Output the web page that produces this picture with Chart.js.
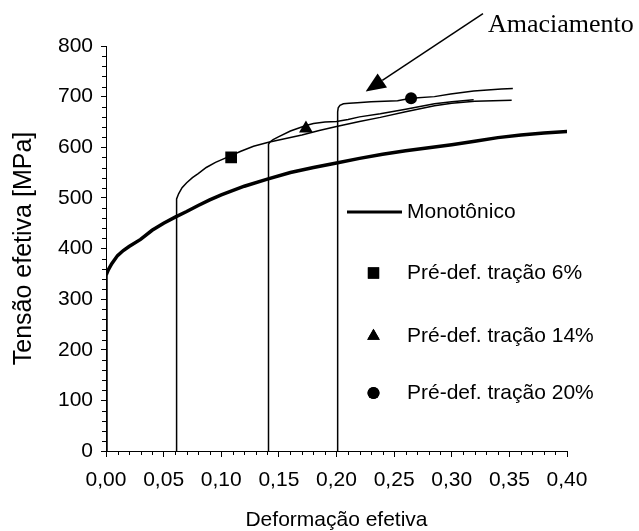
<!DOCTYPE html>
<html><head><meta charset="utf-8">
<script src="https://cdn.jsdelivr.net/npm/chart.js@4.4.1/dist/chart.umd.min.js"></script>
<style>html,body{margin:0;padding:0;background:#fff}#wrap{width:639px;height:531px}</style>
</head><body><div id="wrap"><canvas id="c" width="639" height="531"></canvas></div>
<script>
// ---- data (strain, stress in MPa) ----
const monoStrain = [0, 0, 0.002, 0.005, 0.01, 0.015, 0.02, 0.03, 0.04, 0.05, 0.06, 0.07, 0.08, 0.09, 0.10, 0.12, 0.14, 0.16, 0.18, 0.20, 0.22, 0.24, 0.26, 0.28, 0.30, 0.32, 0.34, 0.36, 0.38, 0.405];
const monoStress = [0, 347, 358, 370, 386, 396, 404, 418, 436, 450, 462, 473, 485, 496, 506, 523, 537, 550, 560, 569, 578, 586, 593, 599, 605, 612, 619, 624, 628, 632];

const pre6Strain = [0.061, 0.061, 0.0615, 0.063, 0.066, 0.070, 0.075, 0.080, 0.087, 0.095, 0.107, 0.117, 0.128, 0.141, 0.155, 0.170, 0.185, 0.200, 0.220, 0.238, 0.260, 0.285, 0.300, 0.320, 0.352];
const pre6Stress = [0, 488, 498, 508, 520, 530, 540, 548, 560, 570, 582, 592, 602, 610, 617, 624, 633, 641, 651, 659, 670, 682, 687, 691, 693];

const pre14Strain = [0.141, 0.141, 0.1425, 0.145, 0.150, 0.160, 0.1735, 0.180, 0.190, 0.200, 0.210, 0.220, 0.238, 0.260, 0.285, 0.300, 0.319];
const pre14Stress = [0, 606, 611, 615, 621, 632, 643, 647, 650, 651, 655, 660, 666, 675, 686, 690, 694];

const pre20Strain = [0.201, 0.201, 0.2015, 0.203, 0.206, 0.211, 0.218, 0.230, 0.253, 0.2645, 0.285, 0.299, 0.319, 0.343, 0.353];
const pre20Stress = [0, 670, 678, 683, 686, 687, 688, 690, 692, 697, 700, 705, 711, 715, 716];

const markerLabels = ['Pré-def. tração 6%', 'Pré-def. tração 14%', 'Pré-def. tração 20%'];
const markerStrain = [0.1086, 0.1735, 0.2647];
const markerStress = [580, 637, 697];

const xMin = 0, xMax = 0.40, xStep = 0.05;
const yMin = 0, yMax = 800, yStep = 100;

function pts(xs, ys) { return xs.map((x, i) => ({ x: x, y: ys[i] })); }

const FONT = '"Liberation Sans", Arial, sans-serif';

const minorTicks = {
  id: 'minorTicks',
  afterDraw(chart) {
    const { ctx, scales: { x, y } } = chart;
    ctx.save();
    ctx.strokeStyle = '#000';
    ctx.lineWidth = 1;
    for (let i = 0; i <= 40; i++) {
      if (i % 5 === 0) continue;
      const px = Math.round(x.getPixelForValue(i / 100)) + 0.5;
      ctx.beginPath(); ctx.moveTo(px, y.bottom); ctx.lineTo(px, y.bottom + 4); ctx.stroke();
    }
    for (let v = 0; v <= 800; v += 20) {
      if (v % 100 === 0) continue;
      const py = Math.round(y.getPixelForValue(v)) + 0.5;
      ctx.beginPath(); ctx.moveTo(x.left, py); ctx.lineTo(x.left - 4, py); ctx.stroke();
    }
    ctx.restore();
  }
};

const customLegend = {
  id: 'customLegend',
  afterDraw(chart) {
    const ctx = chart.ctx;
    ctx.save();
    ctx.fillStyle = '#000';
    ctx.strokeStyle = '#000';
    ctx.font = '21px ' + FONT;
    ctx.textBaseline = 'middle';
    ctx.textAlign = 'left';
    const rows = [212, 273, 336, 393];
    let r = 0;
    chart.data.datasets.forEach((ds) => {
      if (!ds.label) return;
      const yy = rows[r++];
      if (ds.showLine) {
        ctx.lineWidth = 3;
        ctx.beginPath(); ctx.moveTo(347, yy); ctx.lineTo(402, yy); ctx.stroke();
      } else {
        Chart.helpers.drawPoint(ctx, { pointStyle: ds.pointStyle, radius: ds.legendRadius, rotation: 0, borderWidth: 0 }, 373.5, yy);
        ctx.fill();
      }
      ctx.fillText(ds.label, 407, yy);
    });
    ctx.restore();
  }
};

const annotation = {
  id: 'annotation',
  afterDraw(chart) {
    const { ctx, scales: { x, y } } = chart;
    const tx = x.getPixelForValue(0.2253), ty = y.getPixelForValue(710);
    const sx = x.getPixelForValue(0.3271), sy = y.getPixelForValue(864);
    const dx = tx - sx, dy = ty - sy, L = Math.hypot(dx, dy);
    const ux = dx / L, uy = dy / L;
    const hl = 20, hw = 8.5;
    const bx = tx - ux * hl, by = ty - uy * hl;
    ctx.save();
    ctx.strokeStyle = '#000'; ctx.fillStyle = '#000'; ctx.lineWidth = 1.5;
    ctx.beginPath(); ctx.moveTo(sx, sy); ctx.lineTo(bx, by); ctx.stroke();
    ctx.beginPath();
    ctx.moveTo(tx, ty);
    ctx.lineTo(bx - uy * hw, by + ux * hw);
    ctx.lineTo(bx + uy * hw, by - ux * hw);
    ctx.closePath(); ctx.fill();
    ctx.font = '26px "Liberation Serif", "Times New Roman", serif';
    ctx.textBaseline = 'middle'; ctx.textAlign = 'left';
    ctx.fillText('Amaciamento', sx + 5, sy + 12);
    ctx.restore();
  }
};

const lineDs = (data, w) => ({ data: data, showLine: true, borderColor: '#000', backgroundColor: '#000', borderWidth: w, pointRadius: 0, pointHoverRadius: 0, tension: 0 });

const datasets = [
  lineDs(pts(pre6Strain, pre6Stress), 1.5),
  lineDs(pts(pre14Strain, pre14Stress), 1.5),
  lineDs(pts(pre20Strain, pre20Stress), 1.5),
  Object.assign(lineDs(pts(monoStrain, monoStress), 3.5), { label: 'Monotônico' }),
];
const styles = ['rect', 'triangle', 'circle'];
const radii = [8.3, 8, 6];
const legendRadii = [8, 7.3, 6];
markerLabels.forEach((lab, i) => {
  datasets.push({
    label: lab,
    data: [{ x: markerStrain[i], y: markerStress[i] }],
    showLine: false,
    pointStyle: styles[i],
    pointRadius: radii[i],
    legendRadius: legendRadii[i],
    pointBackgroundColor: '#000',
    pointBorderColor: '#000',
    pointBorderWidth: 0,
    backgroundColor: '#000',
    borderColor: '#000'
  });
});

new Chart(document.getElementById('c'), {
  type: 'scatter',
  data: { datasets: datasets },
  plugins: [minorTicks, customLegend, annotation],
  options: {
    responsive: false,
    devicePixelRatio: 1,
    animation: false,
    layout: { padding: { top: 46, right: 72, left: 0, bottom: 0 } },
    plugins: { legend: { display: false }, tooltip: { enabled: false } },
    scales: {
      x: {
        type: 'linear', min: xMin, max: xMax,
        afterFit(s) { s.height = 80; },
        ticks: { stepSize: xStep, color: '#000', font: { family: FONT, size: 21 }, padding: 11,
          callback: (v) => Number(v).toFixed(2).replace('.', ','), maxRotation: 0, autoSkip: false },
        grid: { drawOnChartArea: false, drawTicks: true, tickLength: 6, color: '#000' },
        border: { display: true, color: '#000', width: 1 },
        title: { display: true, text: 'Deformação efetiva', color: '#000', font: { family: FONT, size: 21, lineHeight: 1 }, padding: { top: 0, bottom: 0 } }
      },
      y: {
        type: 'linear', min: yMin, max: yMax,
        afterFit(s) { s.width = 106; },
        ticks: { stepSize: yStep, color: '#000', font: { family: FONT, size: 21 }, padding: 8 },
        grid: { drawOnChartArea: false, drawTicks: true, tickLength: 5, color: '#000' },
        border: { display: true, color: '#000', width: 1 },
        title: { display: true, text: 'Tensão efetiva [MPa]', color: '#000', font: { family: FONT, size: 25, lineHeight: 1 }, padding: { top: 12, bottom: 0 } }
      }
    }
  }
});
</script>
</body></html>
